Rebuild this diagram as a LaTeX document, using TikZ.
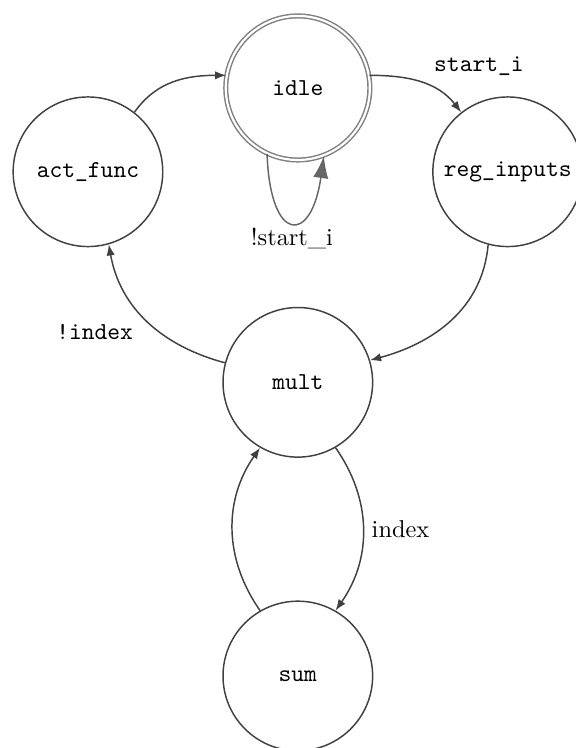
\documentclass[tikz,border=0pt]{standalone}
\usepackage{tikz}
\usetikzlibrary{positioning,arrows.meta}

\begin{document}
\begin{tikzpicture}[
 node distance=1cm, on grid,
 st/.style={draw=black!75,circle,semithick,minimum size=2.16cm,inner sep=0pt,font=\ttfamily},
 initst/.style={st,draw=black!50,double,double distance=0.9pt,minimum size=2.08cm},
 arr/.style={-{Latex[length=1.6mm,width=1.2mm]},draw=black!75,semithick},
 bigarr/.style={-{Latex[length=3.2mm,width=2.2mm]},draw=black!60,semithick},
 lbl/.style={font=\ttfamily},
 rmlbl/.style={font=\rmfamily}
]
\useasboundingbox (-4.30,1.27) rectangle (4.01,-9.53);

\node[initst] (idle) {idle};
\node[st,below left=1.21cm and 3.03cm of idle] (act_func) {act\_func};
\node[st,below right=1.21cm and 3.03cm of idle] (reg_inputs) {reg\_inputs};
\node[st,below=4.25cm of idle] (mult) {mult};
\node[st,below=4.24cm of mult] (sum) {sum};

\draw[arr] (act_func.52) to[out=55,in=180] (idle.170);
\draw[arr] (idle.10) to[out=0,in=128] node[lbl,pos=0.55,above right] {start\_i} (reg_inputs.128);
\draw[bigarr] (idle.245) .. controls +(272:1.3) and +(262:1.3) .. node[rmlbl,below=-1pt] {!start\_i} (idle.291);
\draw[arr] (reg_inputs.255) to[out=265,in=15] (mult.17);
\draw[arr] (mult.165) to[out=165,in=280] node[lbl,pos=0.55,below left] {!index} (act_func.286);
\draw[arr] (mult.300) to[out=305,in=55] node[rmlbl,right] {index} (sum.60);
\draw[arr] (sum.120) to[out=125,in=235] (mult.240);
\end{tikzpicture}
\end{document}
